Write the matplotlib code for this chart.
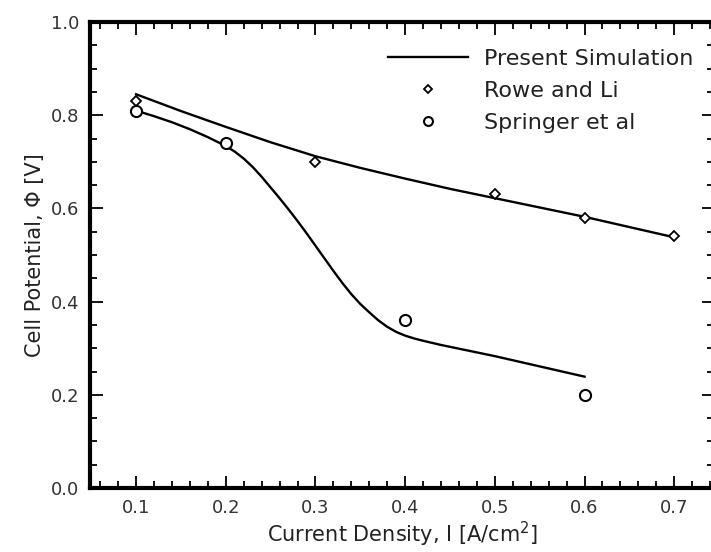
import matplotlib
matplotlib.use("Agg")
import matplotlib.pyplot as plt
from matplotlib.ticker import MultipleLocator

plt.rcParams['font.family'] = ['DejaVu Sans']

# simulation curves
sim_upper_x = [0.10, 0.15, 0.20, 0.25, 0.30, 0.35, 0.40, 0.45, 0.50, 0.55, 0.60, 0.65, 0.70]
sim_upper_y = [0.845, 0.809, 0.775, 0.742, 0.712, 0.687, 0.664, 0.642, 0.622, 0.602,
               0.582, 0.560, 0.538]

sim_lower_x = [0.10, 0.12, 0.14, 0.16, 0.18, 0.20, 0.21, 0.22, 0.23, 0.24,
               0.25, 0.26, 0.27, 0.28, 0.29, 0.30, 0.31, 0.32, 0.33, 0.34,
               0.35, 0.36, 0.37, 0.38, 0.39, 0.40, 0.41, 0.42, 0.44, 0.46,
               0.50, 0.55, 0.60]
sim_lower_y = [0.810, 0.798, 0.785, 0.770, 0.753, 0.734, 0.722, 0.707, 0.689, 0.668,
               0.645, 0.622, 0.598, 0.573, 0.547, 0.520, 0.493, 0.466, 0.440, 0.416,
               0.395, 0.377, 0.360, 0.346, 0.335, 0.327, 0.321, 0.316, 0.307, 0.299,
               0.283, 0.261, 0.239]

# experiments
rowe_x = [0.1, 0.3, 0.5, 0.6, 0.7]
rowe_y = [0.83, 0.70, 0.63, 0.58, 0.54]

springer_x = [0.1, 0.2, 0.4, 0.6]
springer_y = [0.81, 0.74, 0.36, 0.20]

fig = plt.figure(figsize=(7.11, 5.52), dpi=100)
ax = fig.add_axes([0.1266, 0.1159, 0.878, 0.8442])

ax.plot(sim_upper_x, sim_upper_y, color='black', lw=1.7, label='Present Simulation')
ax.plot(sim_lower_x, sim_lower_y, color='black', lw=1.7)
ax.plot(rowe_x, rowe_y, ls='', marker='D', ms=5, mfc='white', mec='black', mew=1.3,
        label='Rowe and Li')
ax.plot(springer_x, springer_y, ls='', marker='o', ms=8, mfc='white', mec='black', mew=1.5,
        label='Springer et al')

ax.set_xlim(0.0487, 0.7446)
ax.set_ylim(0.0, 1.0)
ax.xaxis.set_major_locator(MultipleLocator(0.1))
ax.xaxis.set_minor_locator(MultipleLocator(0.02))
ax.yaxis.set_major_locator(MultipleLocator(0.2))
ax.yaxis.set_minor_locator(MultipleLocator(0.05))
ax.xaxis.set_major_formatter(plt.FormatStrFormatter('%.1f'))
ax.yaxis.set_major_formatter(plt.FormatStrFormatter('%.1f'))

for s in ax.spines.values():
    s.set_linewidth(3)
ax.tick_params(which='both', direction='in', top=True, right=True, width=1.3,
               labelsize=13, colors='black')
ax.tick_params(which='major', length=9, pad=8)
ax.tick_params(which='minor', length=5)
ax.tick_params(axis='x', labelcolor='#333333')
ax.tick_params(axis='y', labelcolor='#333333')

ax.set_xlabel('Current Density, I [A/cm$^2$]', fontsize=15, color='#222222', labelpad=2)
ax.set_ylabel('Cell Potential, \u03a6 [V]', fontsize=15, color='#222222', labelpad=4)

leg = ax.legend(loc='upper right', bbox_to_anchor=(0.998, 0.985), frameon=False,
                fontsize=16, handlelength=3.6, handletextpad=0.7, labelspacing=0.53,
                markerscale=0.8)
for t in leg.get_texts():
    t.set_color('#222222')

fig.savefig('out.png', dpi=100)
